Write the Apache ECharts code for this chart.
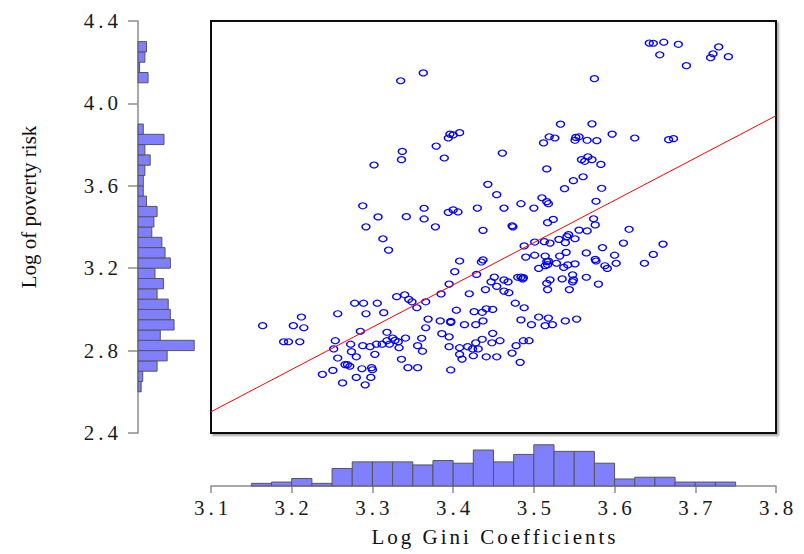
<!DOCTYPE html>
<html>
<head>
<meta charset="utf-8">
<script src="https://cdn.jsdelivr.net/npm/echarts@6/dist/echarts.min.js"></script>
<style>
html,body{margin:0;padding:0;background:#fff;}
#chart{width:804px;height:554px;}
</style>
</head>
<body>
<div id="chart"></div>
<script>
// Log Gini coefficients (x) of each country-year observation
const logGini = [
3.363,3.335,3.396,3.400,3.408,3.394,3.379,3.337,3.336,3.389,3.302,3.461,3.443,3.454,3.288,3.307,3.342,3.364,3.364,3.394,
3.400,3.406,3.430,3.643,3.648,3.661,3.679,3.656,3.689,3.729,3.722,3.719,3.741,3.575,3.533,3.572,3.519,3.526,3.512,3.552,
3.556,3.551,3.566,3.578,3.597,3.625,3.667,3.673,3.516,3.559,3.563,3.567,3.572,3.583,3.561,3.549,3.538,3.584,3.510,3.516,
3.518,3.577,3.484,3.500,3.463,3.524,3.574,3.292,3.378,3.437,3.313,3.320,3.408,3.435,3.437,3.402,3.429,3.395,3.385,3.420,
3.440,3.451,3.447,3.454,3.340,3.330,3.345,3.349,3.366,3.355,3.278,3.289,3.306,3.257,3.292,3.314,3.404,3.426,3.436,3.441,
3.449,3.212,3.164,3.202,3.215,3.369,3.384,3.397,3.397,3.414,3.428,3.437,3.366,3.285,3.318,3.190,3.196,3.210,3.254,3.273,
3.288,3.297,3.305,3.312,3.318,3.321,3.325,3.328,3.332,3.341,3.333,3.356,3.361,3.362,3.386,3.395,3.395,3.408,3.418,3.424,
3.428,3.431,3.436,3.449,3.448,3.458,3.252,3.274,3.257,3.280,3.303,3.336,3.408,3.411,3.425,3.441,3.454,3.266,3.269,3.272,
3.287,3.299,3.300,3.344,3.356,3.238,3.251,3.397,3.280,3.298,3.263,3.291,3.473,3.474,3.517,3.576,3.488,3.501,3.513,3.520,
3.531,3.539,3.541,3.543,3.551,3.556,3.566,3.618,3.611,3.660,3.585,3.565,3.600,3.648,3.637,3.602,3.576,3.577,3.588,3.591,
3.490,3.501,3.514,3.532,3.540,3.516,3.518,3.514,3.517,3.506,3.528,3.537,3.542,3.551,3.463,3.468,3.463,3.469,3.480,3.484,
3.486,3.487,3.520,3.516,3.517,3.535,3.548,3.549,3.548,3.544,3.565,3.580,3.477,3.488,3.484,3.497,3.506,3.518,3.514,3.523,
3.539,3.553,3.478,3.487,3.494,3.473,3.483
];
// Log of poverty risk (y) for the same observations
const logPoverty = [
4.148,4.110,3.851,3.847,3.858,3.832,3.793,3.767,3.727,3.735,3.701,3.759,3.607,3.557,3.503,3.449,3.450,3.491,3.439,3.471,
3.483,3.473,3.492,4.293,4.292,4.297,4.287,4.236,4.183,4.274,4.241,4.222,4.227,4.120,3.899,3.901,3.838,3.832,3.808,3.835,
3.838,3.821,3.821,3.819,3.851,3.832,3.824,3.829,3.682,3.727,3.719,3.741,3.727,3.704,3.644,3.625,3.586,3.588,3.542,3.523,
3.513,3.525,3.513,3.492,3.492,3.437,3.440,3.401,3.401,3.384,3.343,3.288,3.235,3.230,3.240,3.183,3.170,3.123,3.075,3.076,
3.096,3.157,3.134,3.112,3.071,3.062,3.049,3.037,3.037,3.008,3.030,3.030,3.030,2.979,2.979,2.984,2.996,2.989,2.986,3.003,
3.000,2.963,2.921,2.921,2.911,2.953,2.944,2.942,2.937,2.926,2.926,2.944,2.911,2.894,2.889,2.843,2.843,2.843,2.848,2.831,
2.824,2.819,2.831,2.831,2.848,2.831,2.861,2.850,2.843,2.861,2.814,2.824,2.860,2.797,2.882,2.867,2.819,2.814,2.819,2.808,
2.838,2.808,2.855,2.884,2.838,2.848,2.808,2.795,2.764,2.770,2.782,2.758,2.782,2.759,2.775,2.770,2.770,2.732,2.732,2.724,
2.712,2.717,2.707,2.717,2.717,2.685,2.704,2.706,2.670,2.670,2.643,2.634,3.406,3.401,3.421,3.410,3.308,3.327,3.329,3.322,
3.340,3.324,3.353,3.363,3.343,3.385,3.381,3.389,3.322,3.317,3.300,3.274,3.263,3.267,3.224,3.224,3.243,3.235,3.212,3.199,
3.254,3.263,3.259,3.259,3.277,3.232,3.234,3.212,3.217,3.199,3.224,3.204,3.216,3.221,3.143,3.134,3.089,3.081,3.156,3.157,
3.148,3.154,3.143,3.127,3.096,3.148,3.168,3.143,3.134,3.096,3.156,3.123,3.030,3.008,2.949,2.926,2.963,2.958,2.921,2.926,
2.944,2.953,2.824,2.848,2.848,2.788,2.743
];
// Fitted regression line end points
const fitGini = [3.1, 3.8];
const fitPoverty = [2.503, 3.940];

// Marginal histogram of Log Gini (lower bin edges, percent)
const giniBinWidth = 0.025;
const giniBins = [3.150,3.175,3.200,3.225,3.250,3.275,3.300,3.325,3.350,3.375,3.400,3.425,
                  3.450,3.475,3.500,3.525,3.550,3.575,3.600,3.625,3.650,3.675,3.700,3.725];
const giniPct = [0.6,0.9,1.7,0.6,4.0,5.5,5.5,5.5,4.8,5.8,5.2,8.2,
                 5.5,7.2,9.4,7.9,7.9,5.2,1.6,2.0,2.0,0.9,0.9,0.9];

// Marginal histogram of Log poverty risk (lower bin edges, percent)
const povBinWidth = 0.05;
const povBins = [2.60,2.65,2.70,2.75,2.80,2.85,2.90,2.95,3.00,3.05,3.10,3.15,3.20,3.25,3.30,3.35,3.40,
                 3.45,3.50,3.55,3.60,3.65,3.70,3.75,3.80,3.85,3.90,3.95,4.00,4.05,4.10,4.15,4.20,4.25];
const povPct = [0.6,0.9,3.6,5.5,10.6,4.2,6.8,6.1,5.7,3.6,4.8,3.2,6.1,5.1,4.5,2.6,3.0,
                3.6,1.6,1.0,1.0,1.3,2.3,1.3,4.9,1.0,0,0,0,0,1.9,0.3,1.3,1.6];

// Axis settings / labels
const xTitle = 'Log Gini Coefficients';
const yTitle = 'Log of poverty risk';
const xMin = 3.1, xMax = 3.8, xStep = 0.1;
const yMin = 2.4, yMax = 4.4, yStep = 0.4;

const scatterData = logGini.map((g, i) => [g, logPoverty[i]]);
const fitData = fitGini.map((g, i) => [g, fitPoverty[i]]);
const giniHist = giniBins.map((b, i) => [b, b + giniBinWidth, giniPct[i]]).filter(d => d[2] > 0);
const povHist = povBins.map((b, i) => [povPct[i], b, b + povBinWidth]).filter(d => d[0] > 0);

const barStyle = { fill: '#8080ff', stroke: '#555', lineWidth: 1 };
const tickFont = { fontFamily: 'Liberation Serif', fontSize: 21, color: '#1a1a1a' };
const TICK_SPACING = 4;

const chart = echarts.init(document.getElementById('chart'), null, { renderer: 'svg' });
chart.setOption({
  animation: false,
  backgroundColor: '#fff',
  grid: [
    { left: 211, top: 21, width: 565, height: 412, show: true, borderColor: '#111', borderWidth: 2,
      backgroundColor: '#fff', shadowColor: 'rgba(0,0,0,0.35)', shadowBlur: 2, shadowOffsetX: 2, shadowOffsetY: 2 },
    { left: 138, top: 21, width: 70, height: 412 },
    { left: 211, top: 436, width: 565, height: 50 }
  ],
  xAxis: [
    { gridIndex: 0, type: 'value', min: xMin, max: xMax, show: false },
    { gridIndex: 1, type: 'value', min: 0, max: 13.2, show: false },
    { gridIndex: 2, type: 'value', min: xMin, max: xMax, interval: xStep,
      axisLine: { show: true, onZero: false, lineStyle: { color: '#8c8c8c', width: 1.5 } },
      axisTick: { show: true, length: 7, lineStyle: { color: '#8c8c8c', width: 1.5 } },
      axisLabel: Object.assign({ margin: 11, padding: [0, 0, 0, TICK_SPACING], showMinLabel: true, showMaxLabel: true,
        formatter: v => v.toFixed(1) }, tickFont),
      splitLine: { show: false },
      name: xTitle, nameLocation: 'middle', nameGap: 40,
      nameTextStyle: { fontFamily: 'Liberation Serif', fontSize: 21, color: '#111', padding: [0, 0, 0, 3] } }
  ],
  yAxis: [
    { gridIndex: 0, type: 'value', min: yMin, max: yMax, show: false },
    { gridIndex: 1, type: 'value', min: yMin, max: yMax, interval: yStep,
      axisLine: { show: true, onZero: false, lineStyle: { color: '#8c8c8c', width: 1.5 } },
      axisTick: { show: true, length: 10, lineStyle: { color: '#8c8c8c', width: 1.5 } },
      axisLabel: Object.assign({ margin: 16, showMinLabel: true, showMaxLabel: true,
        formatter: v => v.toFixed(1) }, tickFont),
      splitLine: { show: false } },
    { gridIndex: 2, type: 'value', min: 0, max: 11.4, show: false }
  ],
  graphic: [
    { type: 'text', x: 29, y: 207, rotation: Math.PI / 2,
      style: { text: yTitle, font: '21px "Liberation Serif"', fill: '#111', textAlign: 'center', textVerticalAlign: 'middle' } }
  ],
  series: [
    { type: 'scatter', xAxisIndex: 0, yAxisIndex: 0, data: scatterData,
      symbol: 'circle', symbolSize: [8, 6],
      itemStyle: { color: 'rgba(0,0,0,0)', borderColor: '#0000ff', borderWidth: 1.3, opacity: 1 } },
    { type: 'line', xAxisIndex: 0, yAxisIndex: 0, data: fitData, showSymbol: false, symbol: 'none',
      lineStyle: { color: '#ff0000', width: 1 }, z: 3 },
    { type: 'custom', xAxisIndex: 2, yAxisIndex: 2, data: giniHist, encode: { x: [0, 1], y: 2 },
      renderItem: (params, api) => {
        const p0 = api.coord([api.value(0), 0]);
        const p1 = api.coord([api.value(1), api.value(2)]);
        return { type: 'rect', shape: { x: p0[0], y: p1[1], width: p1[0] - p0[0], height: p0[1] - p1[1] }, style: barStyle };
      } },
    { type: 'custom', xAxisIndex: 1, yAxisIndex: 1, data: povHist, encode: { x: 0, y: [1, 2] },
      renderItem: (params, api) => {
        const p0 = api.coord([0, api.value(1)]);
        const p1 = api.coord([api.value(0), api.value(2)]);
        return { type: 'rect', shape: { x: p0[0], y: p1[1], width: p1[0] - p0[0], height: p0[1] - p1[1] }, style: barStyle };
      } }
  ]
});

function spaceText() {
  document.querySelectorAll('#chart text').forEach(t => {
    const s = t.textContent.trim();
    if (/^\d\.\d$/.test(s)) t.setAttribute('letter-spacing', String(TICK_SPACING));
    else if (s === xTitle) t.setAttribute('letter-spacing', '3');
  });
}
spaceText();
chart.on('finished', spaceText);
setTimeout(spaceText, 50);
</script>
</body>
</html>
